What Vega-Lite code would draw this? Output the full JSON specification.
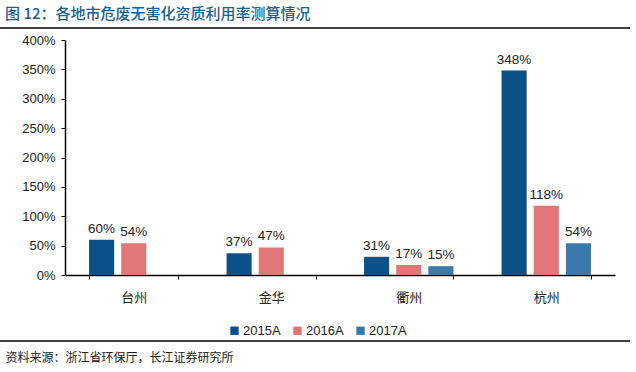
{
  "$schema": "https://vega.github.io/schema/vega-lite/v6.json",
  "width": 550,
  "height": 235,
  "autosize": {"type": "none"},
  "padding": {"left": 65, "top": 40, "right": 21, "bottom": 97},
  "background": "white",
  "config": {
    "font": "Liberation Sans, Noto Sans CJK SC",
    "view": {"stroke": null}
  },
  "title": {
    "text": "图 12：各地市危废无害化资质利用率测算情况",
    "anchor": "start",
    "frame": "group",
    "dx": -60,
    "offset": 5,
    "fontSize": 15,
    "fontWeight": 500,
    "color": "#1d5f8e",
    "font": "Noto Sans CJK SC"
  },
  "data": {
    "values": [
      {"city": "台州", "year": "2015A", "value": 0.60},
      {"city": "台州", "year": "2016A", "value": 0.54},
      {"city": "金华", "year": "2015A", "value": 0.37},
      {"city": "金华", "year": "2016A", "value": 0.47},
      {"city": "衢州", "year": "2015A", "value": 0.31},
      {"city": "衢州", "year": "2016A", "value": 0.17},
      {"city": "衢州", "year": "2017A", "value": 0.15},
      {"city": "杭州", "year": "2015A", "value": 3.48},
      {"city": "杭州", "year": "2016A", "value": 1.18},
      {"city": "杭州", "year": "2017A", "value": 0.54}
    ]
  },
  "layer": [
    {
      "encoding": {
        "x": {
          "field": "city",
          "type": "nominal",
          "sort": ["台州", "金华", "衢州", "杭州"],
          "scale": {"paddingInner": 0.35, "paddingOuter": 0.175},
          "axis": {
            "title": "资料来源：浙江省环保厅，长江证券研究所",
            "titleAnchor": "start",
            "titleAlign": "left",
            "titleX": -60,
            "titleY": 77,
            "titleFont": "Noto Sans CJK SC",
            "titleFontSize": 12,
            "titleFontWeight": "normal",
            "titleColor": "#222",
            "labelAngle": 0,
            "labelFont": "Noto Sans CJK SC",
            "labelFontSize": 13,
            "labelColor": "#222",
            "labelPadding": 12,
            "tickBand": "extent",
            "tickSize": 4,
            "tickColor": "#000",
            "domainColor": "#000",
            "domainWidth": 1.5
          }
        },
        "xOffset": {
          "field": "year",
          "type": "nominal",
          "scale": {"domain": ["2015A", "2016A", "2017A"], "paddingInner": 0.22, "paddingOuter": 0}
        },
        "y": {
          "field": "value",
          "type": "quantitative",
          "scale": {"domain": [0, 4]},
          "axis": {
            "title": null,
            "values": [0, 0.5, 1, 1.5, 2, 2.5, 3, 3.5, 4],
            "format": ".0%",
            "grid": false,
            "labelFontSize": 13,
            "labelColor": "#222",
            "labelPadding": 6,
            "tickSize": 4,
            "tickColor": "#000",
            "domainColor": "#000",
            "domainWidth": 1.5
          }
        }
      },
      "layer": [
        {
          "mark": {"type": "bar"},
          "encoding": {
            "color": {
              "field": "year",
              "type": "nominal",
              "scale": {"domain": ["2015A", "2016A", "2017A"], "range": ["#0b5189", "#e07676", "#3a79aa"]},
              "legend": {
                "title": null,
                "orient": "none",
                "legendX": 163,
                "legendY": 284,
                "direction": "horizontal",
                "symbolType": "square",
                "symbolSize": 70,
                "symbolStrokeWidth": 0,
                "labelFontSize": 13,
                "labelColor": "#222",
                "labelOffset": 2,
                "columnPadding": 10
              }
            }
          }
        },
        {
          "mark": {"type": "text", "dy": -11, "fontSize": 13.5, "color": "#222"},
          "encoding": {
            "text": {"field": "value", "type": "quantitative", "format": ".0%"},
            "detail": {"field": "year"}
          }
        }
      ]
    },
    {
      "data": {"values": [{}]},
      "mark": {"type": "rule", "color": "#000", "strokeWidth": 1.5},
      "encoding": {
        "x": {"value": -65},
        "x2": {"value": 565},
        "y": {
          "datum": 4.204,
          "type": "quantitative",
          "axis": {
            "title": null,
            "values": [0, 0.5, 1, 1.5, 2, 2.5, 3, 3.5, 4],
            "format": ".0%",
            "grid": false,
            "labelFontSize": 13,
            "labelColor": "#222",
            "labelPadding": 6,
            "tickSize": 4,
            "tickColor": "#000",
            "domainColor": "#000",
            "domainWidth": 1.5
          }
        }
      }
    },
    {
      "data": {"values": [{}]},
      "mark": {"type": "rule", "color": "#000", "strokeWidth": 1.5},
      "encoding": {
        "x": {"value": -65},
        "x2": {"value": 565},
        "y": {
          "datum": -1.123,
          "type": "quantitative",
          "axis": {
            "title": null,
            "values": [0, 0.5, 1, 1.5, 2, 2.5, 3, 3.5, 4],
            "format": ".0%",
            "grid": false,
            "labelFontSize": 13,
            "labelColor": "#222",
            "labelPadding": 6,
            "tickSize": 4,
            "tickColor": "#000",
            "domainColor": "#000",
            "domainWidth": 1.5
          }
        }
      }
    }
  ]
}
